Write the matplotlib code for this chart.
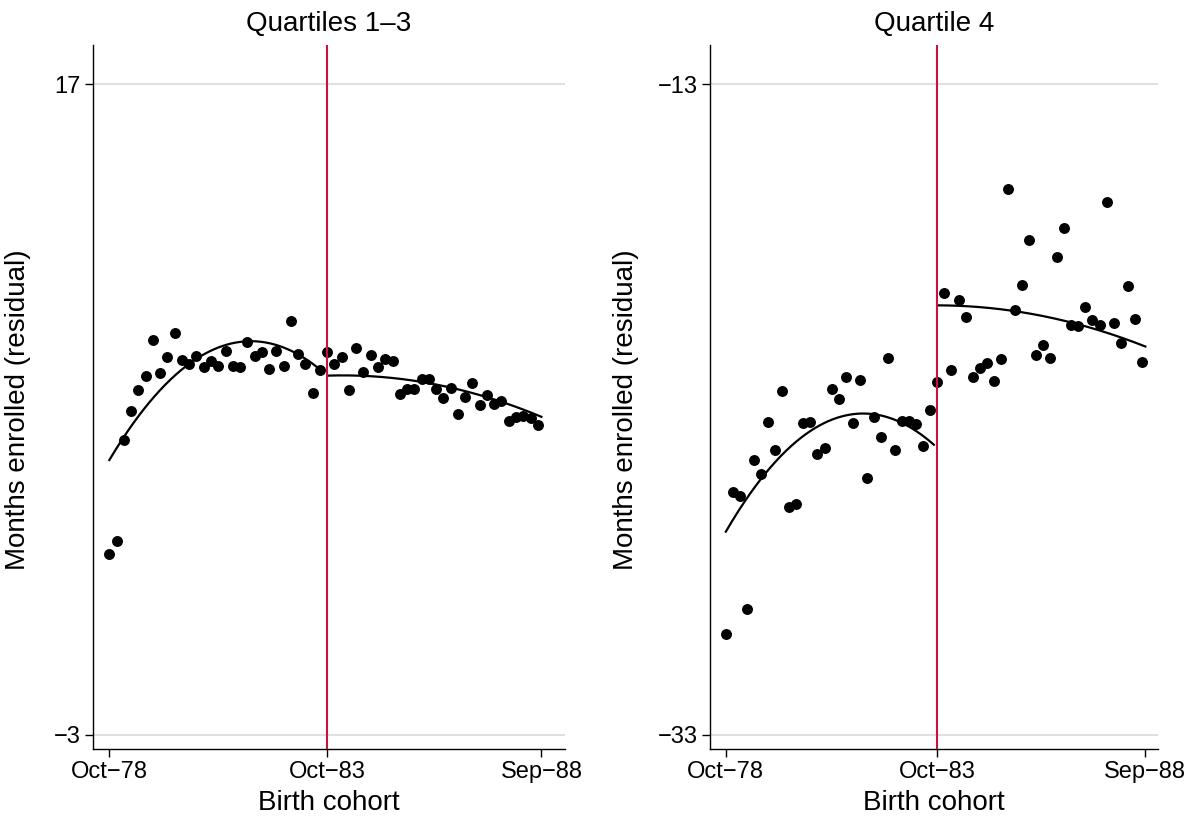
import numpy as np
import matplotlib.pyplot as plt

plt.rcParams['font.family'] = ['Liberation Sans', 'DejaVu Sans']

# bimonthly cohort bins, months since Oct-78
months = np.arange(0, 120, 2)
cutoff = 60

# mean residual months enrolled, quartiles 1-3
q13 = [2.55, 2.95, 6.05, 6.95, 7.60, 8.03, 9.14, 8.12, 8.62, 9.35,
       8.53, 8.39, 8.64, 8.31, 8.49, 8.35, 8.81, 8.35, 8.31, 9.06,
       8.65, 8.78, 8.25, 8.81, 8.35, 9.71, 8.71, 8.39, 7.50, 8.22,
       8.76, 8.41, 8.62, 7.59, 8.90, 8.16, 8.67, 8.31, 8.55, 8.48,
       7.47, 7.64, 7.64, 7.93, 7.94, 7.64, 7.36, 7.66, 6.87, 7.37,
       7.81, 7.14, 7.45, 7.16, 7.27, 6.66, 6.78, 6.80, 6.73, 6.51]

# quartile 4
q4 = [-29.90, -25.53, -25.67, -29.14, -24.55, -24.98, -23.38, -24.24, -22.44, -25.99,
      -25.91, -23.42, -23.38, -24.38, -24.17, -22.37, -22.69, -22.00, -23.41, -22.10,
      -25.10, -23.24, -23.84, -21.41, -24.25, -23.36, -23.36, -23.44, -24.12, -23.02,
      -22.16, -19.42, -21.79, -19.63, -20.16, -22.00, -21.73, -21.56, -22.12, -21.46,
      -16.24, -19.93, -19.17, -17.80, -21.33, -21.01, -21.43, -18.32, -17.42, -20.41,
      -20.44, -19.85, -20.26, -20.39, -16.62, -20.34, -20.96, -19.21, -20.21, -21.53]

# quadratic fits (on individual data), coefficients in months from cutoff
fit_q13_pre = [-0.0024, -0.1008, 8.04]
fit_q13_post = [-0.000425, 0.00365, 8.04]
fit_q4_pre = [-0.00239, -0.1005, -24.18]
fit_q4_post = [-0.00036, -0.0002, -19.80]

xticks = [0, 60, 119]
xticklabels = ['Oct\u221278', 'Oct\u221283', 'Sep\u221288']

panels = [
    ('Quartiles 1\u20133', q13, fit_q13_pre, fit_q13_post, [17, -3],
     [0.0779, 0.0855, 0.3953, 0.8596], 125.5, -0.131),
    ('Quartile 4', q4, fit_q4_pre, fit_q4_post, [-13, -33],
     [0.5946, 0.0855, 0.3750, 0.8596], 122.5, -0.159),
]

red = '#C8143C'
fig = plt.figure(figsize=(11.94, 8.19), dpi=100)

for title, vals, fpre, fpost, yt, pos, xmax, labx in panels:
    ax = fig.add_axes(pos)
    ax.set_xlim(-4.5, xmax)
    ax.set_ylim(yt[1] - 0.43, yt[0] + 1.2)
    ax.set_yticks(yt)
    ax.set_yticklabels([str(v).replace('-', '\u2212') for v in yt])
    ax.set_xticks(xticks)
    ax.set_xticklabels(xticklabels)
    for y in yt:
        ax.axhline(y, color='#dcdcdc', lw=1.3, zorder=0)

    xa = np.linspace(0, cutoff - 1, 200)
    xb = np.linspace(cutoff, 119, 200)
    ax.plot(xa, np.polyval(fpre, xa - cutoff), color='black', lw=1.6, zorder=3)
    ax.plot(xb, np.polyval(fpost, xb - cutoff), color='black', lw=1.6, zorder=3)

    ax.scatter(months, vals, s=62, color='black', zorder=4, linewidths=0)
    ax.axvline(cutoff, color=red, lw=1.5, zorder=5)

    ax.spines['top'].set_visible(False)
    ax.spines['right'].set_visible(False)
    ax.spines['left'].set_linewidth(1.0)
    ax.spines['bottom'].set_linewidth(1.0)
    ax.tick_params(direction='out', length=6, width=1, labelsize=17, pad=3)
    ax.set_title(title, fontsize=20, pad=10)
    ax.set_xlabel('Birth cohort', fontsize=20, labelpad=5)
    ax.set_ylabel('Months enrolled (residual)', fontsize=20)
    ax.yaxis.set_label_coords(labx, 0.482)

fig.savefig('out.png', dpi=100)
